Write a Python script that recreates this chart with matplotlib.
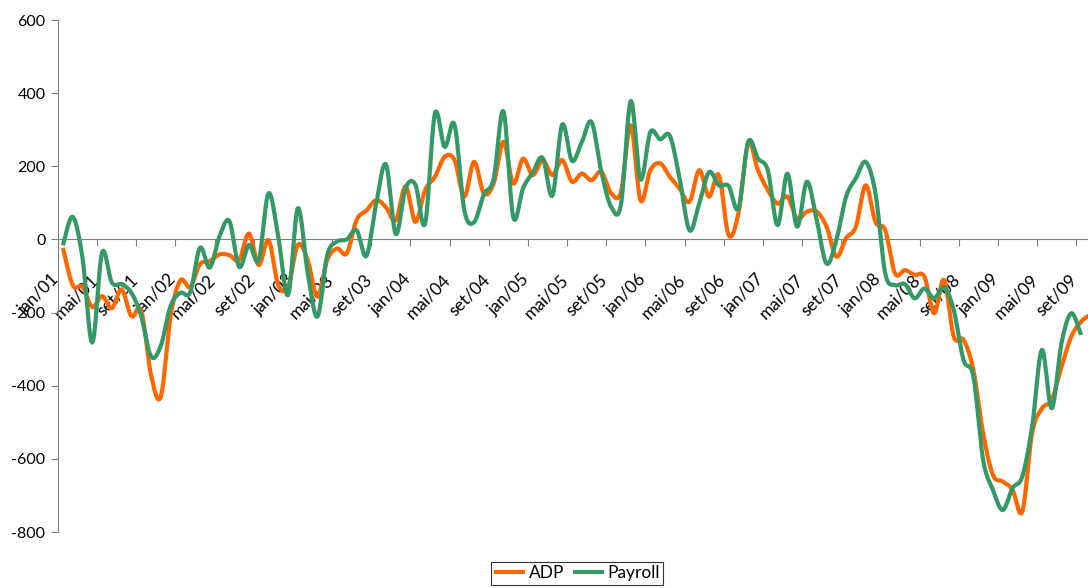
import numpy as np
import matplotlib
matplotlib.use("Agg")
import matplotlib.pyplot as plt
import matplotlib.transforms as mtransforms

plt.rcParams['font.family'] = ['Lato', 'DejaVu Sans']

month_abbr = ["jan", "fev", "mar", "abr", "mai", "jun", "jul", "ago", "set", "out", "nov", "dez"]
months = [f"{month_abbr[i % 12]}/{(1 + i // 12):02d}" for i in range(106)]

adp = [-23, -125, -130, -185, -155, -188, -137, -210, -195, -370, -430, -210,
       -112, -130, -68, -59, -41, -43, -56, 16, -70, -2, -125, -129,
       -15, -56, -157, -56, -25, -38, 53, 79, 107, 88, 52, 145,
       48, 135, 171, 226, 217, 117, 212, 126, 153, 267, 153, 221,
       176, 217, 176, 217, 158, 180, 162, 185, 126, 130, 312, 107,
       189, 208, 171, 139, 103, 189, 117, 176, 12, 71, 262, 189,
       135, 98, 117, 57, 76, 76, 35, -47, 3, 35, 148, 48,
       25, -93, -84, -97, -102, -202, -111, -266, -275, -357, -530, -644,
       -662, -685, -744, -530, -462, -439, -348, -266, -225, -205]

payroll = [-16, 62, -50, -282, -36, -118, -123, -146, -210, -320, -291, -182,
           -146, -145, -23, -77, 9, 50, -75, -15, -56, 126, 7, -152,
           85, -90, -211, -43, -6, 0, 25, -45, 98, 205, 15, 140,
           150, 44, 344, 253, 314, 80, 47, 123, 166, 350, 61, 140,
           183, 223, 120, 314, 215, 266, 321, 185, 89, 95, 378, 164,
           293, 274, 283, 166, 25, 98, 184, 148, 146, 85, 267, 221,
           189, 39, 180, 35, 158, 53, -66, -2, 117, 167, 212, 126,
           -93, -125, -122, -161, -134, -161, -131, -193, -330, -375, -603, -685,
           -740, -680, -648, -512, -302, -462, -284, -202, -261]

label_step = 4
y_ticks = [-800, -600, -400, -200, 0, 200, 400, 600]


def smooth(y, n=20):
    """Excel-style smoothed line (cubic Bezier through each point)."""
    y = np.asarray(y, dtype=float)
    x = np.arange(len(y), dtype=float)
    P = np.column_stack([x, y])
    Pe = np.vstack([P[0], P, P[-1]])
    out = [P[:1]]
    t = np.linspace(0, 1, n + 1)[1:, None]
    for i in range(len(P) - 1):
        p0, p3 = Pe[i + 1], Pe[i + 2]
        c1 = p0 + (Pe[i + 2] - Pe[i]) / 6.0
        c2 = p3 - (Pe[i + 3] - Pe[i + 1]) / 6.0
        seg = ((1 - t) ** 3) * p0 + 3 * ((1 - t) ** 2) * t * c1 + 3 * (1 - t) * t ** 2 * c2 + t ** 3 * p3
        out.append(seg)
    S = np.vstack(out)
    return S[:, 0], S[:, 1]


W, H = 1088, 588
fig = plt.figure(figsize=(W / 100, H / 100), dpi=100)
ax_left = 58 / W
ax_right = (58 + 106 * 9.79) / W
ax_top = 1 - 20 / H
ax_bot = 1 - 532 / H
ax = fig.add_axes([ax_left, ax_bot, ax_right - ax_left, ax_top - ax_bot])

orange = '#FF6600'
green = '#339966'
xa, ya = smooth(adp)
xp, yp = smooth(payroll)
ax.plot(xa, ya, color=orange, lw=3.0, solid_capstyle='butt', label='ADP', zorder=3)
ax.plot(xp, yp, color=green, lw=3.0, solid_capstyle='butt', label='Payroll', zorder=4)

ax.set_xlim(-0.5, 105.5)
ax.set_ylim(-800, 600)

for s in ['top', 'right']:
    ax.spines[s].set_visible(False)
ax.spines['left'].set_color('#808080')
ax.spines['bottom'].set_color('#808080')
ax.spines['bottom'].set_position(('data', 0))
ax.spines['bottom'].set_zorder(2)

ax.set_yticks(y_ticks)
ax.set_yticklabels([str(v) for v in y_ticks])
ax.tick_params(axis='y', direction='out', length=5, color='#808080', labelsize=11.5, pad=4)

# major ticks at category boundaries, labels at category centres
ax.set_xticks(np.arange(-0.5, 106, label_step))
ax.set_xticklabels([])
ax.tick_params(axis='x', which='major', direction='out', length=5, color='#808080')
lab_pos = np.arange(0, 106, label_step)
ax.set_xticks(lab_pos, minor=True)
ax.set_xticklabels([months[i] for i in lab_pos], minor=True, rotation=45,
                   ha='right', va='top', rotation_mode='anchor')
ax.tick_params(axis='x', which='minor', length=0, labelsize=12.5, pad=23)
offset = mtransforms.ScaledTranslation(-12 / 100, 0, fig.dpi_scale_trans)
for lbl in ax.get_xticklabels(minor=True):
    lbl.set_transform(lbl.get_transform() + offset)

leg = fig.legend(loc='upper center', bbox_to_anchor=(577 / W, 1 - 562 / H), ncol=2,
                 frameon=True, fancybox=False, edgecolor='black', fontsize=12.5,
                 handlelength=1.8, handletextpad=0.2, columnspacing=0.5,
                 borderpad=0.2, borderaxespad=0)
leg.get_frame().set_linewidth(0.8)

fig.savefig('out.png', dpi=100)
